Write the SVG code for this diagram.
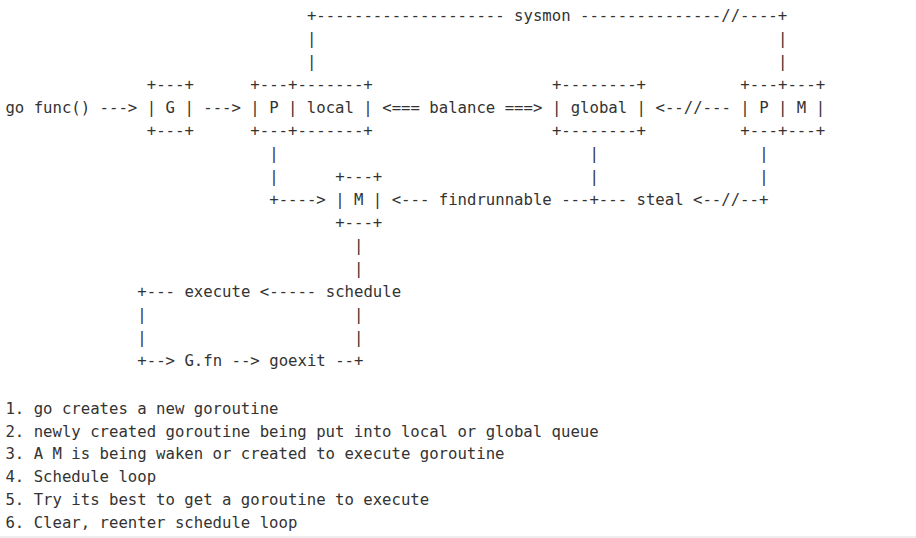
<svg xmlns="http://www.w3.org/2000/svg" width="916" height="538" viewBox="0 0 916 538">
<style>
text{font-family:"DejaVu Sans Mono","Liberation Mono",monospace;font-size:15.65px;fill:#333;white-space:pre}
</style>
<rect x="0" y="0" width="916" height="538" fill="#ffffff"/>
<rect x="0" y="536" width="916" height="2" fill="#eeeeee"/>
<g id="connectors">
<text x="306.90" y="21">+-------------------- sysmon ---------------//----+</text>
<text x="306.90" y="44">|</text><text x="778.00" y="44">|</text>
<text x="306.90" y="67">|</text><text x="778.00" y="67">|</text>
<text x="99.62" y="113">---&gt;</text>
<text x="203.26" y="113">---&gt;</text>
<text x="382.28" y="113">&lt;=== balance ===&gt;</text>
<text x="655.52" y="113">&lt;--//---</text>
<text x="269.22" y="159">|</text><text x="589.56" y="159">|</text><text x="759.16" y="159">|</text>
<text x="269.22" y="182">|</text><text x="589.56" y="182">|</text><text x="759.16" y="182">|</text>
<text x="269.22" y="205">+----&gt;</text>
<text x="391.70" y="205">&lt;--- findrunnable ---+--- steal &lt;--//--+</text>
<text x="354.01" y="251">|</text>
<text x="354.01" y="274">|</text>
<text x="137.31" y="297">+---</text>
<text x="259.79" y="297">&lt;-----</text>
<text x="137.31" y="320">|</text><text x="354.01" y="320">|</text>
<text x="137.31" y="343">|</text><text x="354.01" y="343">|</text>
<text x="137.31" y="366">+--&gt;</text>
<text x="231.53" y="366">--&gt;</text>
<text x="335.17" y="366">--+</text>
</g>
<g id="node-gofunc"><text x="5.4" y="113">go func()</text></g>
<g id="node-G">
<text x="146.73" y="90">+---+</text>
<text x="146.73" y="113">| G |</text>
<text x="146.73" y="136">+---+</text>
</g>
<g id="node-P-local">
<text x="250.37" y="90">+---+-------+</text>
<text x="250.37" y="113">| P | local |</text>
<text x="250.37" y="136">+---+-------+</text>
</g>
<g id="node-global">
<text x="551.88" y="90">+--------+</text>
<text x="551.88" y="113">| global |</text>
<text x="551.88" y="136">+--------+</text>
</g>
<g id="node-PM">
<text x="740.32" y="90">+---+---+</text>
<text x="740.32" y="113">| P | M |</text>
<text x="740.32" y="136">+---+---+</text>
</g>
<g id="node-M">
<text x="335.17" y="182">+---+</text>
<text x="335.17" y="205">| M |</text>
<text x="335.17" y="228">+---+</text>
</g>
<g id="node-execute"><text x="184.42" y="297">execute</text></g>
<g id="node-schedule"><text x="325.75" y="297">schedule</text></g>
<g id="node-Gfn"><text x="184.42" y="366">G.fn</text></g>
<g id="node-goexit"><text x="269.22" y="366">goexit</text></g>
<g id="legend">
<text x="5.4" y="413.7">1. go creates a new goroutine</text>
<text x="5.4" y="436.5">2. newly created goroutine being put into local or global queue</text>
<text x="5.4" y="459.3">3. A M is being waken or created to execute goroutine</text>
<text x="5.4" y="482.1">4. Schedule loop</text>
<text x="5.4" y="504.9">5. Try its best to get a goroutine to execute</text>
<text x="5.4" y="527.7">6. Clear, reenter schedule loop</text>
</g>
</svg>
